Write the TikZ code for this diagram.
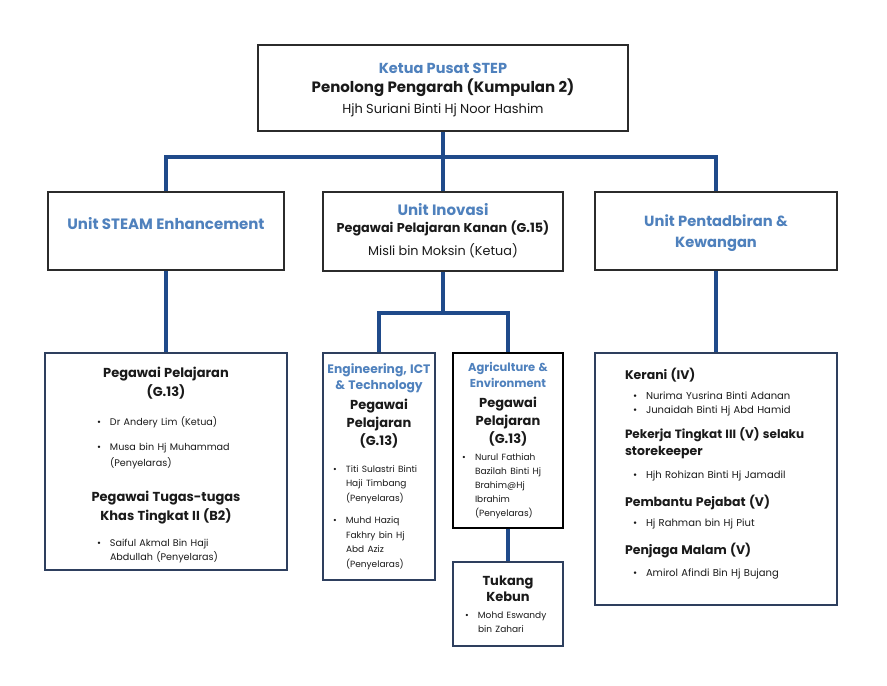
\documentclass[tikz,border=0pt]{standalone}
\usepackage{fontspec}
\setmainfont{Poppins}
\usepackage{xcolor}
\definecolor{headblue}{HTML}{4F81BD}
\definecolor{linkblue}{HTML}{1F4A8A}
\definecolor{boxgray}{HTML}{2B2B2B}
\definecolor{boxnavy}{HTML}{2E3F5E}
\definecolor{txt}{HTML}{1A1A1A}
\newcommand{\fs}[2]{\fontsize{#1}{#2}\selectfont}
\newcommand{\pitem}[2]{{\leftskip=#1\rightskip=0pt plus 1fil\parfillskip=0pt plus 1fil\hangindent=13pt\hangafter=1\noindent\makebox[13pt][l]{\textbullet}#2\par}}
\tikzset{
  box/.style={draw=boxgray, line width=1.5pt, fill=white, inner sep=0pt, align=center, text=txt,
    execute at begin node={\setlength{\parskip}{0pt}\hyphenpenalty=10000}},
  subbox/.style={box, draw=boxnavy},
  link/.style={draw=linkblue, line width=3.5pt}
}
\begin{document}
\begin{tikzpicture}[x=1pt,y=-1pt]
\useasboundingbox (0,0) rectangle (887,686);
\node[box, minimum width=370, minimum height=86, text width=360] (top) at (443,88)
  {{\fs{14.5}{17}\color{headblue}\bfseries Ketua Pusat STEP\par}
   {\fs{15}{19}\bfseries Penolong Pengarah (Kumpulan 2)\par}
   \vspace{5pt}
   {\fs{13}{16}Hjh Suriani Binti Hj Noor Hashim\par}\vspace{-4pt}};
\node[box, minimum width=236, minimum height=78, text width=230] (steam) at (166,231)
  {{\fs{15}{18}\color{headblue}\bfseries Unit STEAM Enhancement\par}\vspace{14pt}};
\node[box, minimum width=240, minimum height=79, text width=234] (inov) at (443,231.5)
  {{\fs{15}{18}\color{headblue}\bfseries Unit Inovasi\par}
   {\fs{12.8}{17}\bfseries Pegawai Pelajaran Kanan (G.15)\par}
   \vspace{7pt}
   {\fs{12.8}{16}Misli bin Moksin (Ketua)\par}\vspace{1pt}};
\node[box, minimum width=242, minimum height=78, text width=236] (pent) at (716,231)
  {{\fs{14.7}{21}\color{headblue}\bfseries Unit Pentadbiran \&\\Kewangan\par}\vspace{-4pt}};
\node[subbox, minimum width=242, minimum height=217, text width=150] (g13) at (166,461.5)
  {{\fs{13}{19}\bfseries Pegawai Pelajaran\\(G.13)\par}
   \vspace{13pt}
   {\fs{9.6}{16}\pitem{6pt}{Dr Andery Lim (Ketua)}
   \vspace{9pt}
   \pitem{6pt}{Musa bin Hj Muhammad\newline(Penyelaras)}}
   \vspace{16pt}
   {\fs{13}{19}\bfseries Pegawai Tugas-tugas\\Khas Tingkat II (B2)\par}
   \vspace{11pt}
   {\fs{9.6}{14.5}\pitem{6pt}{Saiful Akmal Bin Haji\newline Abdullah (Penyelaras)}}\vspace{-8pt}};
\node[subbox, minimum width=112, minimum height=227, text width=106] (eng) at (379,466.5)
  {{\fs{12.3}{16}\color{headblue}\bfseries\mbox{Engineering, ICT}\\\& Technology\par}
   \vspace{2pt}
   {\fs{13}{18}\bfseries Pegawai\\Pelajaran\\(G.13)\par}
   \vspace{12pt}
   {\fs{9}{14.5}\pitem{7pt}{Titi Sulastri Binti\newline Haji Timbang\newline(Penyelaras)}
   \vspace{8pt}
   \pitem{7pt}{Muhd Haziq\newline Fakhry bin Hj\newline Abd Aziz\newline(Penyelaras)}}};
\node[box, draw=black, line width=2pt, minimum width=110, minimum height=175, text width=104] (agri) at (508,440.5)
  {{\fs{11.5}{16}\color{headblue}\bfseries Agriculture \&\\Environment\par}
   \vspace{2pt}
   {\fs{13}{18}\bfseries Pegawai\\Pelajaran\\(G.13)\par}
   \vspace{3pt}
   {\fs{9}{14}\pitem{6pt}{Nurul Fathiah\newline Bazilah Binti Hj\newline Brahim@Hj\newline Ibrahim\newline(Penyelaras)}}};
\node[subbox, minimum width=110, minimum height=84, text width=104] (kebun) at (508,604)
  {{\fs{13}{16}\bfseries Tukang\\Kebun\par}
   \vspace{3pt}
   {\fs{9}{14}\pitem{9pt}{Mohd Eswandy\newline bin Zahari}}};
\node[subbox, minimum width=242, minimum height=252, text width=182, align=left] (staff) at (716,479)
  {{\fs{12.5}{17}\bfseries Kerani (IV)\par}
   \vspace{6pt}
   {\fs{10}{14}\pitem{8pt}{Nurima Yusrina Binti Adanan}
   \pitem{8pt}{Junaidah Binti Hj Abd Hamid}}
   \vspace{8pt}
   {\fs{12.5}{17}\bfseries\mbox{\fontsize{12}{17}\selectfont Pekerja Tingkat III (V) selaku}\\storekeeper\par}
   \vspace{9pt}
   {\fs{10}{14}\pitem{8pt}{Hjh Rohizan Binti Hj Jamadil}}
   \vspace{11pt}
   {\fs{12.5}{17}\bfseries Pembantu Pejabat (V)\par}
   \vspace{6pt}
   {\fs{10}{14}\pitem{8pt}{Hj Rahman bin Hj Piut}}
   \vspace{11pt}
   {\fs{12.5}{17}\bfseries Penjaga Malam (V)\par}
   \vspace{8pt}
   {\fs{10}{14}\pitem{8pt}{Amirol Afindi Bin Hj Bujang}}
   \vspace{10pt}};
\coordinate (bus) at (443,157);
\coordinate (split) at (443,313);
\draw[link] (top.south) -- (bus);
\draw[link] (steam.north) |- (bus) -| (pent.north);
\draw[link] (bus) -- (inov.north);
\draw[link] (steam.south) -- (g13.north);
\draw[link] (pent.south) -- (staff.north);
\draw[link] (inov.south) -- (split);
\draw[link] (eng.north) |- (split) -| (agri.north);
\draw[link] (agri.south) -- (kebun.north);
\end{tikzpicture}
\end{document}
